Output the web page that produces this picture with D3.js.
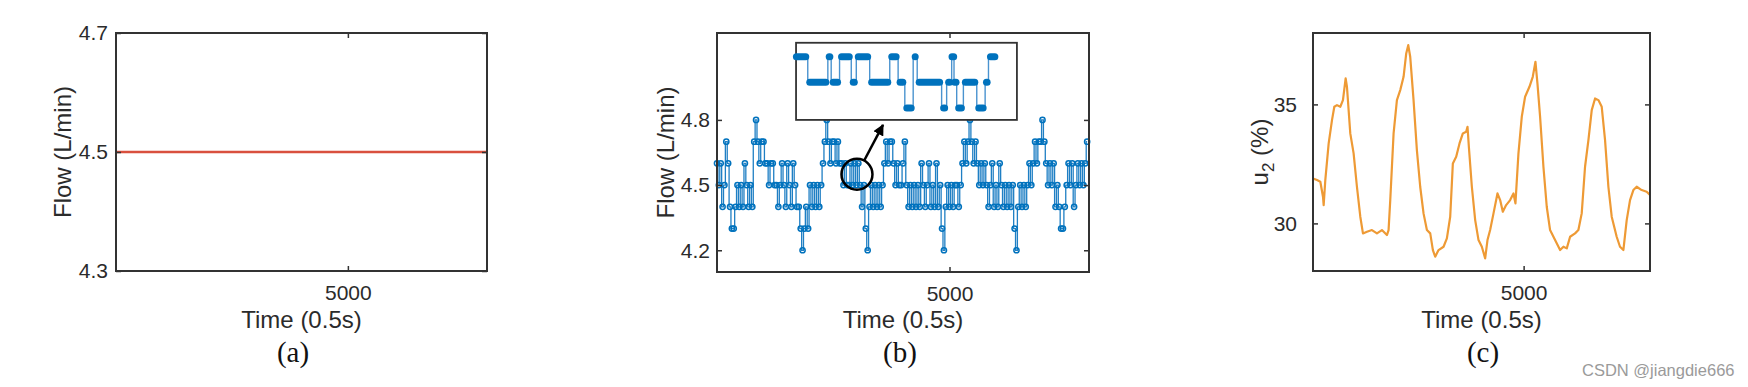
<!DOCTYPE html>
<html>
<head>
<meta charset="utf-8">
<script src="https://cdn.jsdelivr.net/npm/d3@7"></script>
<style>
  body { margin: 0; background: #fff; }
  svg { display: block; }
</style>
</head>
<body>
<svg id="chart"></svg>
<script>
const width = 1748;
const height = 387;

// ---- data ----
const timeDomain = [0, 8000];
const xTickValues = [5000];

// (a) set point flow
const flowATime = [0, 8000];
const flowAValue = [4.5, 4.5];

// (b) measured flow, one reading every 40 samples (values in 0.1 L/min)
const sampleStepB = 40;
const flowBTenths = [
  46, 45, 46, 44, 45, 47, 46, 44, 43, 43, 44, 45, 44, 45, 44, 46, 45, 44, 45, 44,
  47, 48, 47, 46, 47, 47, 46, 46, 45, 46, 46, 45, 45, 44, 45, 46, 45, 44, 46, 45,
  44, 46, 45, 44, 44, 43, 42, 43, 44, 43, 45, 44, 45, 44, 45, 44, 45, 46, 47, 48,
  47, 46, 47, 47, 46, 47, 46, 46, 45, 46, 45, 45, 46, 45, 46, 45, 46, 45, 44, 45,
  43, 42, 44, 45, 44, 45, 44, 45, 44, 45, 46, 47, 46, 47, 47, 46, 45, 46, 45, 45,
  46, 47, 45, 44, 45, 44, 45, 44, 45, 44, 46, 45, 44, 45, 46, 44, 45, 44, 46, 44,
  45, 43, 42, 44, 45, 44, 45, 44, 45, 45, 44, 45, 46, 47, 46, 47, 48, 47, 46, 47,
  46, 45, 46, 45, 46, 45, 44, 45, 46, 44, 45, 44, 46, 45, 44, 45, 44, 45, 44, 45,
  43, 42, 44, 45, 44, 45, 44, 45, 46, 45, 46, 47, 46, 47, 47, 48, 47, 46, 45, 46,
  45, 46, 44, 45, 44, 43, 43, 44, 45, 46, 45, 46, 44, 45, 46, 45, 46, 45, 46, 47
];

// (b) inset: zoomed runs [start, end, flow] in inset units
const insetRuns = [
  [15, 55, 4.6], [55, 115, 4.5], [115, 125, 4.6], [125, 150, 4.5], [150, 185, 4.6],
  [185, 200, 4.5], [200, 240, 4.6], [240, 300, 4.5], [300, 325, 4.6], [325, 345, 4.5],
  [345, 370, 4.4], [370, 382, 4.6], [382, 455, 4.5], [455, 470, 4.4], [470, 485, 4.5],
  [485, 492, 4.6], [492, 500, 4.5], [500, 520, 4.4], [520, 560, 4.5], [560, 585, 4.4],
  [585, 595, 4.5], [595, 620, 4.6]
];
const insetDomain = [20, 680];
const insetLevels = [4.4, 4.6];
// circled region and arrow tip (time, flow)
const zoomSpot = [3010, 4.55];
const arrowTip = [3570, 4.777];

// (c) control signal u2 (%)
const u2Time = [
  0, 95, 174, 237, 253, 292, 372, 451, 506, 569, 648, 711, 775, 806, 885, 964, 1043, 1123, 1186, 1281,
  1399, 1518, 1636, 1755, 1794, 1834, 1913, 1992, 2071, 2150, 2213, 2261, 2308, 2387, 2466, 2545, 2624, 2704, 2783, 2846,
  2901, 2980, 3099, 3178, 3257, 3320, 3399, 3478, 3557, 3636, 3668, 3700, 3771, 3850, 3929, 4008, 4087, 4142, 4205, 4285,
  4379, 4443, 4506, 4585, 4680, 4759, 4806, 4877, 4956, 5035, 5138, 5217, 5281, 5328, 5391, 5470, 5549, 5628, 5747, 5866,
  5945, 6024, 6103, 6221, 6300, 6379, 6458, 6538, 6617, 6696, 6775, 6854, 6933, 7012, 7091, 7209, 7288, 7368, 7447, 7526,
  7605, 7684, 7802, 7921, 8000
];
const u2Value = [
  31.89, 31.82, 31.75, 31.12, 30.77, 31.82, 33.36, 34.34, 34.90, 34.97, 34.90, 35.18, 36.09, 35.74, 33.78, 32.94, 31.54, 30.28, 29.58, 29.65,
  29.72, 29.58, 29.72, 29.51, 29.72, 30.98, 33.78, 35.18, 35.60, 36.16, 37.14, 37.49, 37.00, 35.18, 33.08, 31.54, 30.42, 29.72, 29.58, 28.88,
  28.60, 28.88, 29.02, 29.37, 30.28, 32.52, 32.80, 33.36, 33.78, 33.85, 34.06, 33.22, 31.54, 30.14, 29.30, 29.02, 28.53, 29.30, 29.72, 30.42,
  31.26, 30.98, 30.49, 30.77, 30.98, 31.26, 30.84, 32.94, 34.48, 35.32, 35.74, 36.16, 36.79, 35.88, 34.48, 32.38, 30.70, 29.72, 29.30, 28.88,
  29.02, 28.95, 29.44, 29.58, 29.72, 30.42, 32.38, 33.50, 34.76, 35.25, 35.18, 34.90, 33.50, 31.54, 30.28, 29.44, 29.02, 28.88, 30.14, 30.98,
  31.40, 31.54, 31.40, 31.33, 31.19
];

// ---- layout ----
const panels = [
  { box: [116, 33, 487, 271], yDomain: [4.3, 4.7], yTicks: [4.3, 4.5, 4.7], yFormat: ".1f",
    yPad: 8, yLabelX: 71, yLabel: "Flow (L/min)", tag: "(a)", tagX: 293 },
  { box: [717, 33, 1089, 272], yDomain: [4.1, 5.2], yTicks: [4.2, 4.5, 4.8], yFormat: ".1f",
    yPad: 7, yLabelX: 674, yLabel: "Flow (L/min)", tag: "(b)", tagX: 900 },
  { box: [1313, 33, 1650, 271], yDomain: [28, 38], yTicks: [30, 35], yFormat: "d",
    yPad: 16, yLabelX: 1268, yLabel: null, tag: "(c)", tagX: 1483 }
];

const axisColor = "#333";
const tickLen = 5;

const svg = d3.select("#chart")
  .attr("width", width)
  .attr("height", height)
  .attr("viewBox", `0 0 ${width} ${height}`)
  .style("font-family", "'Liberation Sans', Arial, sans-serif");

function makeScales(p) {
  const x = d3.scaleLinear().domain(timeDomain).range([p.box[0], p.box[2]]);
  const y = d3.scaleLinear().domain(p.yDomain).range([p.box[3], p.box[1]]);
  return { x, y };
}

function styleAxis(sel) {
  sel.select(".domain").remove();
  sel.selectAll(".tick line").attr("stroke", axisColor).attr("stroke-width", 1.5);
  sel.selectAll(".tick text").attr("fill", "#2b2b2b").style("font-size", "21px");
}

function drawFrame(p, x, y) {
  const g = svg.append("g");
  const [x0, y0, x1, y1] = p.box;

  g.append("g").attr("transform", `translate(0,${y1})`)
    .call(d3.axisBottom(x).tickValues(xTickValues).tickSize(-tickLen).tickPadding(14).tickFormat(d3.format("d")))
    .call(styleAxis);
  g.append("g").attr("transform", `translate(0,${y0})`)
    .call(d3.axisTop(x).tickValues(xTickValues).tickSize(-tickLen).tickFormat(""))
    .call(styleAxis);
  g.append("g").attr("transform", `translate(${x0},0)`)
    .call(d3.axisLeft(y).tickValues(p.yTicks).tickSize(-tickLen).tickPadding(p.yPad).tickFormat(d3.format(p.yFormat)))
    .call(styleAxis);
  g.append("g").attr("transform", `translate(${x1},0)`)
    .call(d3.axisRight(y).tickValues(p.yTicks).tickSize(-tickLen).tickFormat(""))
    .call(styleAxis);

  g.append("rect")
    .attr("x", x0).attr("y", y0)
    .attr("width", x1 - x0).attr("height", y1 - y0)
    .attr("fill", "none")
    .attr("stroke", axisColor)
    .attr("stroke-width", 2);

  const cx = (x0 + x1) / 2;
  g.append("text")
    .attr("x", cx).attr("y", 328)
    .attr("text-anchor", "middle")
    .attr("fill", "#2b2b2b")
    .style("font-size", "24px")
    .text("Time (0.5s)");

  const yl = g.append("text")
    .attr("transform", `translate(${p.yLabelX},${(y0 + y1) / 2}) rotate(-90)`)
    .attr("text-anchor", "middle")
    .attr("fill", "#2b2b2b")
    .style("font-size", "24px");
  if (p.yLabel) {
    yl.text(p.yLabel);
  } else {
    yl.append("tspan").text("u");
    yl.append("tspan").attr("dy", 6).style("font-size", "17px").text("2");
    yl.append("tspan").attr("dy", -6).text(" (%)");
  }

  g.append("text")
    .attr("x", p.tagX).attr("y", 362)
    .attr("text-anchor", "middle")
    .attr("fill", "#111")
    .style("font-family", "'Liberation Serif', 'Times New Roman', serif")
    .style("font-size", "29px")
    .text(p.tag);
}

// ---- panel (a) ----
{
  const p = panels[0];
  const { x, y } = makeScales(p);
  const line = d3.line().x((d, i) => x(flowATime[i])).y(d => y(d));
  svg.append("path")
    .datum(flowAValue)
    .attr("d", line)
    .attr("fill", "none")
    .attr("stroke", "#D9503E")
    .attr("stroke-width", 2.5);
  drawFrame(p, x, y);
}

// ---- panel (b) ----
{
  const p = panels[1];
  const { x, y } = makeScales(p);
  const pts = flowBTenths.map((v, i) => [i * sampleStepB, v / 10]);
  const blue = "#0072BD";

  svg.append("path")
    .datum(pts)
    .attr("d", d3.line().x(d => x(d[0])).y(d => y(d[1])).curve(d3.curveStep))
    .attr("fill", "none")
    .attr("stroke", "#1f7fc4")
    .attr("stroke-width", 1.3);

  svg.append("g")
    .selectAll("circle")
    .data(pts)
    .join("circle")
    .attr("cx", d => x(d[0]))
    .attr("cy", d => y(d[1]))
    .attr("r", 2.6)
    .attr("fill", "none")
    .attr("stroke", blue)
    .attr("stroke-width", 1.5);

  drawFrame(p, x, y);

  // inset box sits at the top of the axes
  const bx0 = x(1700), bx1 = x(6450);
  const by0 = y(5.155), by1 = y(4.8);
  svg.append("rect")
    .attr("x", bx0).attr("y", by0)
    .attr("width", bx1 - bx0).attr("height", by1 - by0)
    .attr("fill", "#fff")
    .attr("stroke", axisColor)
    .attr("stroke-width", 1.8);

  const ix = d3.scaleLinear().domain(insetDomain).range([bx0, bx1]);
  const iy = d3.scaleLinear().domain(insetLevels).range([by1 - 12, by0 + 14]);
  const inset = svg.append("g");

  // transitions between runs
  inset.selectAll("line.jump")
    .data(insetRuns.slice(1))
    .join("line")
    .attr("class", "jump")
    .attr("x1", d => ix(d[0])).attr("x2", d => ix(d[0]))
    .attr("y1", (d, i) => iy(insetRuns[i][2]))
    .attr("y2", d => iy(d[2]))
    .attr("stroke", "#4a93cf")
    .attr("stroke-width", 1.4);

  inset.selectAll("line.run")
    .data(insetRuns)
    .join("line")
    .attr("class", "run")
    .attr("x1", d => ix(d[0]) + 2).attr("x2", d => ix(d[1]) - 2)
    .attr("y1", d => iy(d[2])).attr("y2", d => iy(d[2]))
    .attr("stroke", blue)
    .attr("stroke-width", 7)
    .attr("stroke-linecap", "round");

  // circled region + arrow
  const cx = x(zoomSpot[0]), cy = y(zoomSpot[1]), r = 15.5;
  svg.append("circle")
    .attr("cx", cx).attr("cy", cy).attr("r", r)
    .attr("fill", "none")
    .attr("stroke", "#000")
    .attr("stroke-width", 2.5);

  svg.append("defs").append("marker")
    .attr("id", "arrow")
    .attr("viewBox", "0 -5 10 10")
    .attr("refX", 9)
    .attr("refY", 0)
    .attr("markerWidth", 4.5)
    .attr("markerHeight", 4.5)
    .attr("orient", "auto")
    .append("path")
    .attr("d", "M0,-5L10,0L0,5Z")
    .attr("fill", "#000");

  const tx = x(arrowTip[0]), ty = y(arrowTip[1]);
  const ang = Math.atan2(ty - cy, tx - cx);
  svg.append("line")
    .attr("x1", cx + r * Math.cos(ang)).attr("y1", cy + r * Math.sin(ang))
    .attr("x2", tx).attr("y2", ty)
    .attr("stroke", "#000")
    .attr("stroke-width", 2.5)
    .attr("marker-end", "url(#arrow)");
}

// ---- panel (c) ----
{
  const p = panels[2];
  const { x, y } = makeScales(p);
  const line = d3.line().x((d, i) => x(u2Time[i])).y(d => y(d));
  svg.append("path")
    .datum(u2Value)
    .attr("d", line)
    .attr("fill", "none")
    .attr("stroke", "#EE9A35")
    .attr("stroke-width", 2.2)
    .attr("stroke-linejoin", "round");
  drawFrame(p, x, y);
}

// watermark
svg.append("text")
  .attr("x", 1582).attr("y", 376)
  .attr("fill", "#9a9a9a")
  .style("font-size", "16.5px")
  .text("CSDN @jiangdie666");
</script>
</body>
</html>
